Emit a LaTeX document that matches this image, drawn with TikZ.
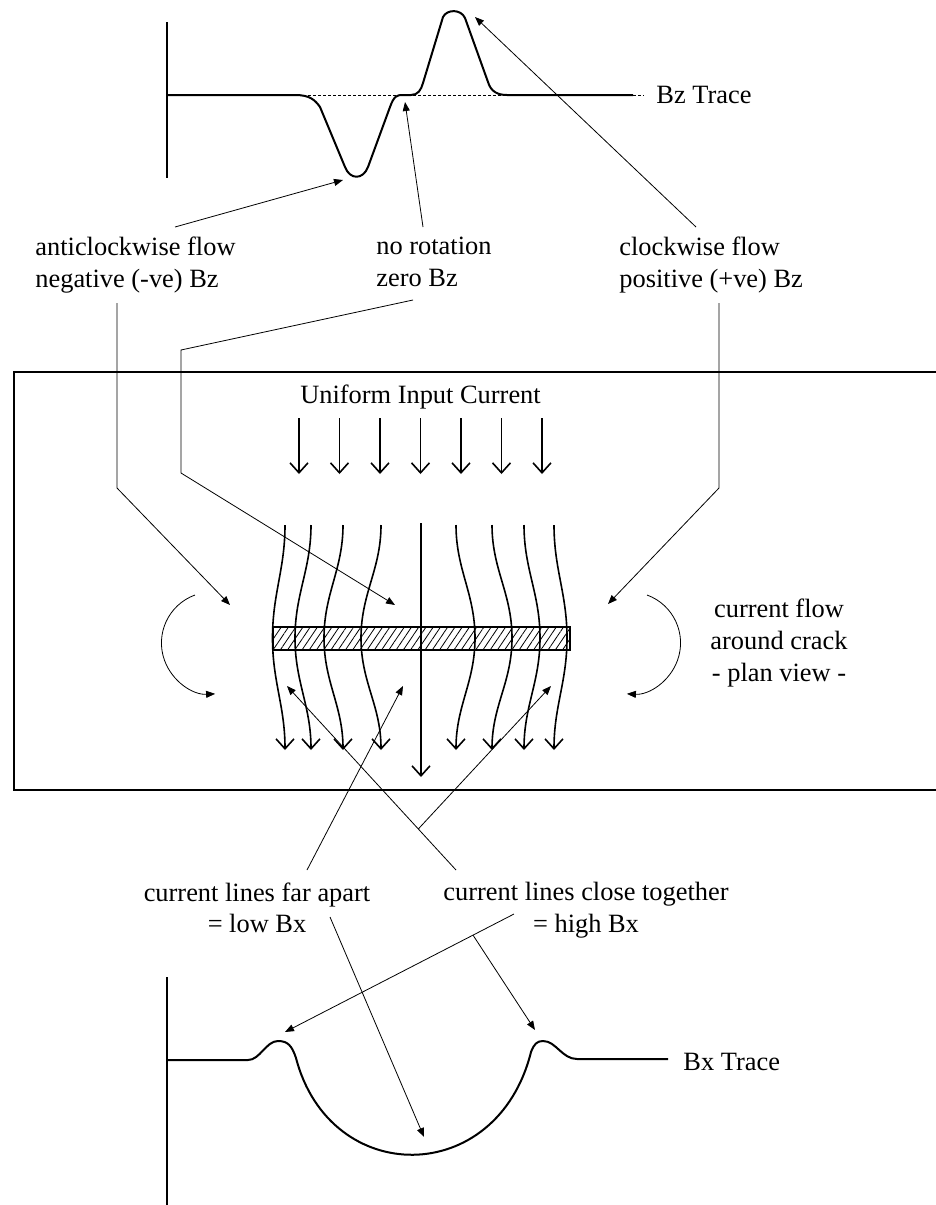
\documentclass[tikz,border=0pt]{standalone}
\usepackage{fontspec}
\setmainfont{Liberation Serif}
\usetikzlibrary{arrows.meta, patterns.meta, calc}

\begin{document}
\begin{tikzpicture}[
    x=0.5pt, y=-0.5pt,
    txt/.style={
        font=\fontsize{13.2}{15.8}\selectfont,
        inner sep=0pt
    },
    axis/.style={
        line width=1pt
    },
    trace/.style={
        line width=1pt,
        line join=round
    },
    zeroline/.style={
        line width=0.4pt,
        dash pattern=on 1.5pt off 1pt
    },
    plate/.style={
        line width=1pt
    },
    crackbox/.style={
        draw,
        line width=1pt,
        pattern={Lines[angle=56, distance=3pt, line width=0.4pt]},
        minimum width=148.5pt,
        minimum height=11.5pt,
        inner sep=0pt
    },
    flowline/.style={
        -{Straight Barb[length=5pt, width=9pt]},
        line width=0.8pt
    },
    pointer/.style={
        -{Triangle[length=4.5pt, width=3.5pt]},
        line width=0.4pt
    }
]
\useasboundingbox (0,0) rectangle (936,1205);

% Bz trace
\draw [zeroline] (303,95) -- (644,95);
\draw [axis] (167,22) -- (167,178);
\draw [trace] (167,95) -- (295,95) .. controls (310,95) and (315,100) .. (320,107)
    -- (345,167) .. controls (350,180) and (363,180) .. (368,167)
    -- (390,107) .. controls (394,96) and (397,95) .. (402,95)
    -- (411,95) .. controls (418,95) and (421,90) .. (423,83)
    -- (443,17) .. controls (447,9) and (461,9) .. (465,18)
    -- (488,82) .. controls (491,92) and (498,95) .. (507,95) -- (633,95);
\node (bzlbl) [txt, anchor=base west] at (656,103) {Bz Trace};

% Labels
\node (anti) [txt, align=left, anchor=north west] at (35,237) {anticlockwise flow\\negative (-ve) Bz};
\node (norot) [txt, align=left, anchor=north west] at (376,237) {no rotation\\zero Bz};
\node (clock) [txt, align=left, anchor=north west] at (619,237) {clockwise flow\\positive (+ve) Bz};

% Plate with crack
\draw [plate] (940,372) -- (14,372) -- (14,790) -- (940,790);
\node (input) [txt, anchor=base] at (420.5,403) {Uniform Input Current};
\draw [flowline] (299,418) -- (299,474);
\draw [flowline] (339.5,418) -- (339.5,474);
\draw [flowline] (380,418) -- (380,474);
\draw [flowline] (420.5,418) -- (420.5,474);
\draw [flowline] (461,418) -- (461,474);
\draw [flowline] (501.5,418) -- (501.5,474);
\draw [flowline] (542,418) -- (542,474);

\node (crack) [crackbox] at (421,638) {};
\draw [flowline] (285,525) to[out=-90,in=90] (272.5,638) to[out=-90,in=90] (285,750);
\draw [flowline] (311,525) to[out=-90,in=90] (295,638) to[out=-90,in=90] (311,750);
\draw [flowline] (343,525) to[out=-90,in=90] (324,638) to[out=-90,in=90] (343,750);
\draw [flowline] (381,525) to[out=-90,in=90] (361,638) to[out=-90,in=90] (381,750);
\draw [flowline] (421,523) -- (421,777);
\draw [flowline] (456,525) to[out=-90,in=90] (475,638) to[out=-90,in=90] (456,750);
\draw [flowline] (492,525) to[out=-90,in=90] (512,638) to[out=-90,in=90] (492,750);
\draw [flowline] (524,525) to[out=-90,in=90] (540,638) to[out=-90,in=90] (524,750);
\draw [flowline] (554,525) to[out=-90,in=90] (567,638) to[out=-90,in=90] (554,750);

\draw [pointer] (195,595) arc[start angle=110, end angle=273, radius=25.5pt];
\draw [pointer] (647,595) arc[start angle=70, end angle=-93, radius=25.5pt];
\node (flowlbl) [txt, align=center, anchor=north] at (779,599) {current flow\\around crack\\- plan view -};

% Bx trace
\draw [axis] (167,977) -- (167,1205);
\draw [trace] (167,1060) -- (248,1060) .. controls (260,1060) and (266,1041) .. (278,1041)
    .. controls (288,1041) and (292,1046) .. (296,1058)
    .. controls (330,1188) and (497,1188) .. (531,1052)
    .. controls (534,1044) and (537,1041) .. (543,1041)
    .. controls (556,1041) and (562,1059) .. (577,1059) -- (668,1059);
\node (bxlbl) [txt, anchor=base west] at (683,1070) {Bx Trace};

\node (far) [txt, align=center, anchor=north] at (257,882) {current lines far apart\\= low Bx};
\node (close) [txt, align=center, anchor=north] at (586,882) {current lines close together\\= high Bx};

% Ends
\coordinate (antiup) at (175,227);
\coordinate (norotup) at (423,227);
\coordinate (clockup) at (696,227);
\coordinate (antidown) at (117,303);
\coordinate (norotdown) at (413,300);
\coordinate (clockdown) at (719,303);
\coordinate (troughtip) at (343,180);
\coordinate (zerotip) at (405,102);
\coordinate (peaktip) at (475,17);
\coordinate (leftrot) at (230,605);
\coordinate (midrot) at (395,605);
\coordinate (rightrot) at (608,604);
\coordinate (farup) at (307,870);
\coordinate (fardown) at (330,917);
\coordinate (closeup) at (456,870);
\coordinate (closedown) at (514,914);
\coordinate (gapwide) at (403,686);
\coordinate (gapnarrowL) at (287,686);
\coordinate (gapnarrowR) at (551,686);
\coordinate (bxlow) at (424,1137);
\coordinate (bxhighL) at (285,1032);
\coordinate (bxhighR) at (535,1030);

% Paths
\draw [pointer] (antiup) -- (troughtip);
\draw [pointer] (norotup) -- (zerotip);
\draw [pointer] (clockup) -- (peaktip);
\draw [pointer] (antidown) -- (117,488) -- (leftrot);
\draw [pointer] (norotdown) -- (181,350) -- (181,473) -- (midrot);
\draw [pointer] (clockdown) -- (719,488) -- (rightrot);
\draw [pointer] (farup) -- (gapwide);
\draw [pointer] (fardown) -- (bxlow);
\draw [pointer] (closeup) -- (gapnarrowL);
\draw [pointer] ($(closeup)!0.223!(gapnarrowL)$) -- (gapnarrowR);
\draw [pointer] (closedown) -- (bxhighL);
\draw [pointer] ($(closedown)!0.179!(bxhighL)$) -- (bxhighR);

\end{tikzpicture}
\end{document}
